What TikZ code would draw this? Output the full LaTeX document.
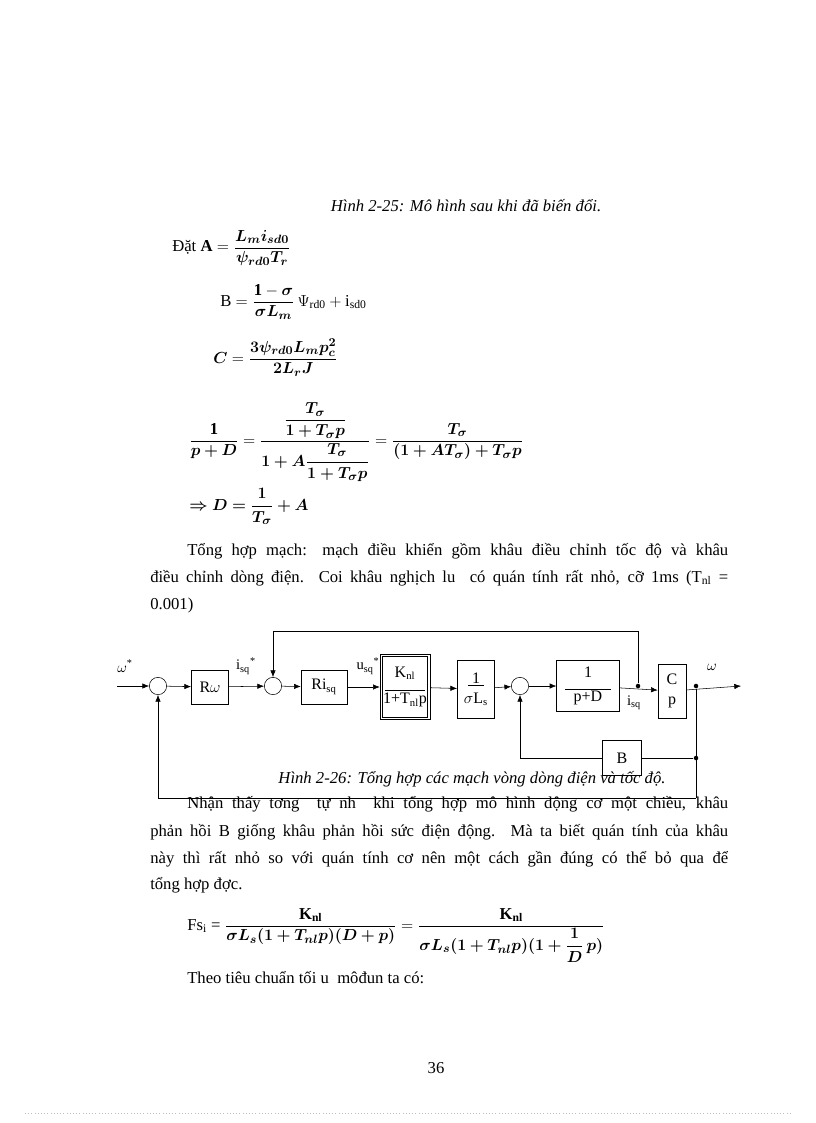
\documentclass[tikz,border=0pt]{standalone}
\usepackage{amsmath,bm}
\usepackage{fontspec}
\setmainfont{Liberation Serif}
\usetikzlibrary{arrows.meta}
\begin{document}
\begin{tikzpicture}[x=0.75pt,y=-0.75pt,
  txt/.style={anchor=base west,inner sep=0,font=\fontsize{12.5}{14}\selectfont},
  captxt/.style={anchor=base,inner sep=0,font=\fontsize{12.5}{14}\selectfont\itshape},
  blk/.style={draw,minimum width=#1,minimum height=25.5pt,inner sep=1pt,font=\fontsize{12}{13}\selectfont},
  sumc/.style={draw,circle,minimum size=13pt,inner sep=0},
  lab/.style={inner sep=0,font=\fontsize{11}{12}\selectfont},
  ar/.style={-{Latex[length=5pt,width=4pt]}},
  dotn/.style={circle,fill,inner sep=1.2pt}]
\useasboundingbox (0,0) rectangle (816,1123);
\fill[white] (0,0) rectangle (816,1123);
\newcommand{\jl}[1]{\makebox[433.5pt][s]{#1}}
% caption 2-25
\node[captxt] (c25) at (466,212) {Hình 2-25: Mô hình sau khi đã biến đổi.};
\node[txt] (dat) at (172,252) {Đặt $\mathbf{A}=\dfrac{\bm{L_m i_{sd0}}}{\bm{\psi_{rd0}T_r}}$};
\node[txt] (eqB) at (220,306) {B $=\dfrac{\mathbf{1}-\bm{\sigma}}{\bm{\sigma L_m}}\,\Psi_{\mathrm{rd0}}+\mathrm{i}_{\mathrm{sd0}}$};
\node[txt] (eqC) at (213,363) {$\bm{C}=\dfrac{\bm{3\psi_{rd0}L_m p_c^2}}{\bm{2L_r J}}$};
\node[txt] (eqD) at (189,445) {$\dfrac{\mathbf{1}}{\bm{p+D}}=\dfrac{\dfrac{\bm{T_\sigma}}{\bm{1+T_\sigma p}}}{\bm{1+ A\dfrac{T_\sigma}{1+T_\sigma p}}}=\dfrac{\bm{T_\sigma}}{\bm{(1+AT_\sigma)+T_\sigma p}}$};
\node[txt] (eqE) at (189,510) {$\bm{\Rightarrow D=\dfrac{1}{T_\sigma}+A}$};
% paragraph 1
\node[txt] (p1) at (187,555) {\makebox[405.75pt][s]{Tổng hợp mạch: mạch điều khiển gồm khâu điều chỉnh tốc độ và khâu}};
\node[txt] (p2) at (150,582) {\jl{điều chỉnh dòng điện. Coi khâu nghịch lu\ \ có quán tính rất nhỏ, cỡ 1ms (T\textsubscript{nl} =}};
\node[txt] (p3) at (150,609) {0.001)};
% diagram
\node[sumc] (s1) at (158,686) {};
\node[blk=28pt] (rw) at (210,687) {R$\omega$};
\node[sumc] (s2) at (273,686) {};
\node[blk=34.5pt] (ri) at (324,687) {Ri\textsubscript{sq}};
\node[draw,minimum width=37.5pt,minimum height=49pt,inner sep=0] (kn) at (405,687) {};
\node[draw,minimum width=34pt,minimum height=45.5pt,inner sep=0,font=\fontsize{12}{13}\selectfont,align=center] (kni) at (405,687) {K\textsubscript{nl}\\[-3pt]\rule{30pt}{0.4pt}\\[-3pt]1+T\textsubscript{nl}p};
\node[blk=28pt,minimum height=43.5pt,align=center] (sl) at (476,689) {\underline{\ 1\ }\\[2pt]$\sigma$L\textsubscript{s}};
\node[sumc] (s3) at (520,686) {};
\node[blk=47pt,minimum height=38pt,align=center] (pd) at (588,686) {1\\[-4pt]\rule{34pt}{0.4pt}\\[-4pt]p+D};
\node[blk=21pt,minimum height=40.5pt,align=center] (cp) at (672,691) {C\\[2pt]p};
\node[blk=29pt,minimum height=26pt] (bb) at (622,758) {B};
\coordinate (in) at (117,686);
\coordinate (out) at (741,686);
\node[dotn] (d1) at (638,686) {};
\node[dotn] (d2) at (696,686) {};
\node[dotn] (d3) at (696,758) {};
\coordinate (bl) at (696,798);
\draw[ar] (in) -- (s1);
\draw[ar] (s1) -- (rw);
\draw[ar] (rw) -- (s2);
\draw[ar] (s2) -- (ri);
\draw[ar] (ri) -- (kn);
\draw[ar] (kn) -- (sl);
\draw[ar] (sl) -- (s3);
\draw[ar] (s3) -- (pd);
\draw[ar] (pd) -- (cp);
\draw[ar] (cp) -- (out);
\draw[ar] (d1) |- (273,631) -- (s2);
\draw (d2) -- (bl);
\draw (d3) -- (bb);
\draw[ar] (bb) -| (s3);
\draw[ar] (bl) -| (s1);
\node[lab] (lw) at (125,666) {$\omega$\textsuperscript{*}};
\node[lab] (li) at (246,666) {i\textsubscript{sq}\textsuperscript{*}};
\node[lab] (lu) at (368,666) {u\textsubscript{sq}\textsuperscript{*}};
\node[lab] (lo) at (712,667) {$\omega$};
\node[lab] (lis) at (634,703) {i\textsubscript{sq}};
\node[captxt] (c26) at (472,783) {Hình 2-26: Tổng hợp các mạch vòng dòng điện và tốc độ.};
% paragraph 2
\node[txt] (q1) at (187,808) {\makebox[405.75pt][s]{Nhận thấy tơng\ \ tự nh\ \ khi tổng hợp mô hình động cơ một chiều, khâu}};
\node[txt] (q2) at (150,836) {\jl{phản hồi B giống khâu phản hồi sức điện động. Mà ta biết quán tính của khâu}};
\node[txt] (q3) at (150,863) {\jl{này thì rất nhỏ so với quán tính cơ nên một cách gần đúng có thể bỏ qua để}};
\node[txt] (q4) at (150,889) {tổng hợp đợc.};
\node[txt] (fs) at (187,930) {Fs\textsubscript{i} = $\dfrac{\mathbf{K_{nl}}}{\bm{\sigma L_s(1+T_{nl}p)(D+p)}}=\dfrac{\mathbf{K_{nl}}}{\bm{\sigma L_s(1+T_{nl}p)(1+\dfrac{1}{D}\,p)}}$};
\node[txt] (th) at (187,983) {Theo tiêu chuẩn tối u\ \ môđun ta có:};
\node[anchor=base,inner sep=0,font=\fontsize{12.5}{14}\selectfont] (pg) at (436,1073) {36};
\draw[gray!50,dotted] (25,1113) -- (790,1113);
\end{tikzpicture}
\end{document}
